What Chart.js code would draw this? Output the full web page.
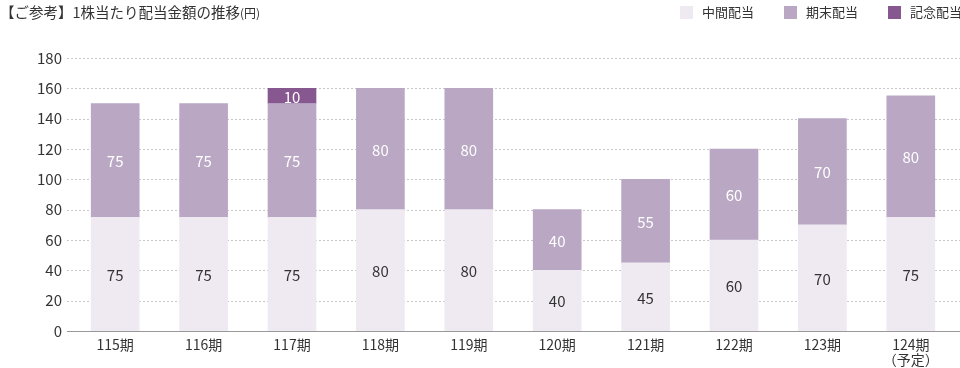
<!DOCTYPE html>
<html>
<head>
<meta charset="utf-8">
<script src="https://cdn.jsdelivr.net/npm/chart.js@4/dist/chart.umd.min.js"></script>
<style>
  html, body { margin: 0; padding: 0; background: #fff; }
  #wrap { position: relative; width: 960px; height: 368px; }
  #title { position: absolute; left: 0; top: 2px; font-family: "Noto Sans CJK JP", "Noto Sans", sans-serif; font-size: 14.5px; color: #333; white-space: nowrap; line-height: 20px; }
  #title small { font-size: 12px; }
  #legend { position: absolute; left: 680px; top: 2px; display: flex; font-family: "Noto Sans CJK JP", "Noto Sans", sans-serif; font-size: 13px; color: #333; line-height: 20px; white-space: nowrap; }
  #legend .item { display: flex; align-items: center; margin-right: 30px; }
  #legend .item:last-child { margin-right: 0; }
  #legend .box { width: 13px; height: 13px; margin-right: 9px; }
  canvas { position: absolute; left: 0; top: 0; }
</style>
</head>
<body>
<div id="wrap">
  <canvas id="c" width="960" height="368"></canvas>
  <div id="title">【ご参考】1株当たり配当金額の推移<small>(円)</small></div>
  <div id="legend"></div>
</div>
<script>
const categories = ['115期', '116期', '117期', '118期', '119期', '120期', '121期', '122期', '123期', ['124期', '（予定）']];
const interimDividend = [75, 75, 75, 80, 80, 40, 45, 60, 70, 75];
const yearEndDividend = [75, 75, 75, 80, 80, 40, 55, 60, 70, 80];
const commemorativeDividend = [null, null, 10, null, null, null, null, null, null, null];
const seriesNames = ['中間配当', '期末配当', '記念配当'];
const seriesColors = ['#efe9f1', '#b9a7c4', '#86588f'];
const labelColors = ['#333333', '#ffffff', '#ffffff'];
const yTicks = [0, 20, 40, 60, 80, 100, 120, 140, 160, 180];

const FONT = '"Noto Sans CJK JP", "Noto Sans", sans-serif';

// HTML legend
const lg = document.getElementById('legend');
seriesNames.forEach((n, i) => {
  const it = document.createElement('div'); it.className = 'item';
  const b = document.createElement('div'); b.className = 'box'; b.style.background = seriesColors[i];
  const t = document.createElement('span'); t.textContent = n;
  it.appendChild(b); it.appendChild(t); lg.appendChild(it);
});

const gridPlugin = {
  id: 'customGrid',
  beforeDatasetsDraw(chart) {
    const ctx = chart.ctx, y = chart.scales.y;
    ctx.save();
    ctx.strokeStyle = '#c8c8c8';
    ctx.lineWidth = 1;
    ctx.setLineDash([2, 2]);
    yTicks.forEach(v => {
      if (v === 0) return;
      const py = Math.round(y.getPixelForValue(v)) + 0.5;
      ctx.beginPath(); ctx.moveTo(67, py); ctx.lineTo(960, py); ctx.stroke();
    });
    ctx.restore();
  },
  afterDatasetsDraw(chart) {
    const ctx = chart.ctx, y = chart.scales.y;
    ctx.save();
    ctx.strokeStyle = '#999';
    ctx.lineWidth = 1.2;
    const py = Math.round(y.getPixelForValue(0)) + 0.5;
    ctx.beginPath(); ctx.moveTo(67, py); ctx.lineTo(960, py); ctx.stroke();
    ctx.restore();
  }
};

const labelPlugin = {
  id: 'barLabels',
  afterDatasetsDraw(chart) {
    const ctx = chart.ctx;
    ctx.save();
    ctx.font = '15px ' + FONT;
    ctx.textAlign = 'center';
    ctx.textBaseline = 'middle';
    chart.data.datasets.forEach((ds, di) => {
      const meta = chart.getDatasetMeta(di);
      meta.data.forEach((el, i) => {
        const v = ds.data[i];
        if (v == null) return;
        ctx.fillStyle = labelColors[di];
        ctx.fillText(String(v), el.x, (el.y + el.base) / 2 + 1);
      });
    });
    ctx.restore();
  }
};

new Chart(document.getElementById('c'), {
  type: 'bar',
  data: {
    labels: categories,
    datasets: [interimDividend, yearEndDividend, commemorativeDividend].map((d, i) => ({
      label: seriesNames[i],
      data: d,
      backgroundColor: seriesColors[i],
      borderWidth: 0,
      barThickness: 48
    }))
  },
  options: {
    responsive: false,
    animation: false,
    layout: { padding: { top: 58, right: 5, left: 0, bottom: 0 } },
    plugins: { legend: { display: false }, tooltip: { enabled: false }, title: { display: false } },
    scales: {
      x: {
        stacked: true,
        grid: { display: false, drawTicks: false, tickLength: 0 },
        border: { display: false },
        ticks: { color: '#333', font: { family: FONT, size: 14, lineHeight: 1.1 }, padding: 6, maxRotation: 0 },
        afterFit(s) { s.height = 37; }
      },
      y: {
        stacked: true,
        min: 0, max: 180,
        grid: { display: false, drawTicks: false, tickLength: 0 },
        border: { display: false },
        afterBuildTicks(s) { s.ticks = yTicks.map(v => ({ value: v })); },
        ticks: { color: '#333', font: { family: FONT, size: 15 }, padding: 9 },
        afterFit(s) { s.width = 71; }
      }
    }
  },
  plugins: [gridPlugin, labelPlugin]
});
</script>
</body>
</html>
